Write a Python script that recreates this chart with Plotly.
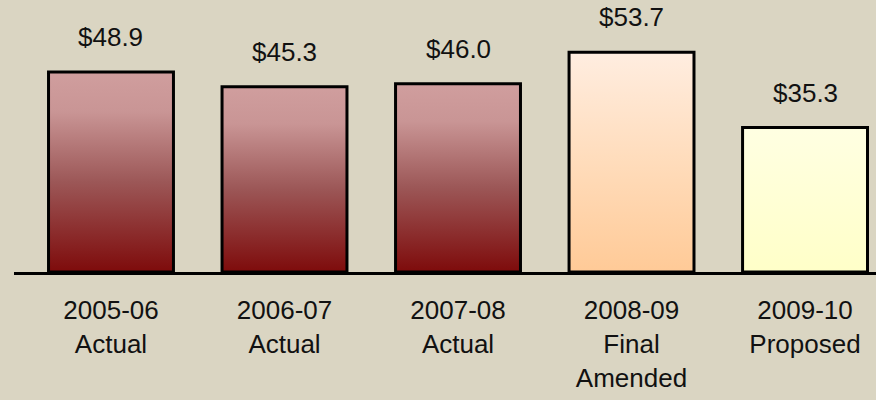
import plotly.graph_objects as go

# ---- data ----
categories = ["2005-06<br>Actual", "2006-07<br>Actual", "2007-08<br>Actual",
              "2008-09<br>Final<br>Amended", "2009-10<br>Proposed"]
values = [48.9, 45.3, 46.0, 53.7, 35.3]
value_labels = ["$48.9", "$45.3", "$46.0", "$53.7", "$35.3"]

# ---- style ----
BAR_W = 0.72
FONT = "Liberation Sans, Arial, sans-serif"
BG = "#DAD5C2"
gradients = [
    [[0, "#7E0B0B"], [0.45, "#9C5757"], [0.8, "#C99595"], [1, "#D09E9E"]],
    [[0, "#7E0B0B"], [0.45, "#9C5757"], [0.8, "#C99595"], [1, "#D09E9E"]],
    [[0, "#7E0B0B"], [0.45, "#9C5757"], [0.8, "#C99595"], [1, "#D09E9E"]],
    [[0, "#FFCA97"], [0.5, "#FFDCBB"], [1, "#FFEDE0"]],
    [[0, "#FFFFC8"], [1, "#FFFFE2"]],
]

xs = list(range(len(values)))
fig = go.Figure()

# gradient fills (base axes)
for i, v in enumerate(values):
    x0, x1 = xs[i] - BAR_W / 2, xs[i] + BAR_W / 2
    fig.add_trace(go.Scatter(
        x=[x0, x1, x1, x0, x0], y=[0, 0, v, v, 0],
        mode="lines", line=dict(width=0), fill="toself",
        fillgradient=dict(type="vertical", colorscale=gradients[i]),
        hoverinfo="skip", showlegend=False, xaxis="x", yaxis="y",
    ))

# bars with outline (overlay axes, drawn on top)
fig.add_trace(go.Bar(
    x=xs, y=values, width=BAR_W,
    marker=dict(color="rgba(0,0,0,0)", line=dict(color="#000000", width=3)),
    showlegend=False, xaxis="x2", yaxis="y2",
))

for i, v in enumerate(values):
    fig.add_annotation(x=xs[i], y=v, xref="x2", yref="y2", text=value_labels[i],
                       showarrow=False, yanchor="bottom", yshift=18,
                       font=dict(family=FONT, size=26, color="#111111"))

XR = [-0.559, 4.409]
YR = [0, 66.5]
fig.update_layout(
    width=876, height=400,
    margin=dict(l=14, r=0, t=0, b=128),
    paper_bgcolor=BG, plot_bgcolor="rgba(0,0,0,0)",
    font=dict(family=FONT, size=26, color="#111111"),
    xaxis=dict(range=XR, tickvals=xs, ticktext=categories, showgrid=False,
               zeroline=False, showline=True, linecolor="#000000", linewidth=2.5,
               ticks="", ticklabelstandoff=13,
               tickfont=dict(family=FONT, size=26, color="#111111")),
    yaxis=dict(range=YR, visible=False, showgrid=False, zeroline=False),
    xaxis2=dict(range=XR, overlaying="x", visible=False, showgrid=False, zeroline=False),
    yaxis2=dict(range=YR, overlaying="y", visible=False, showgrid=False, zeroline=False),
)

fig.write_html("out.html", config={"displayModeBar": False},
               post_script="document.body.style.margin='0';document.body.style.overflow='hidden';")
